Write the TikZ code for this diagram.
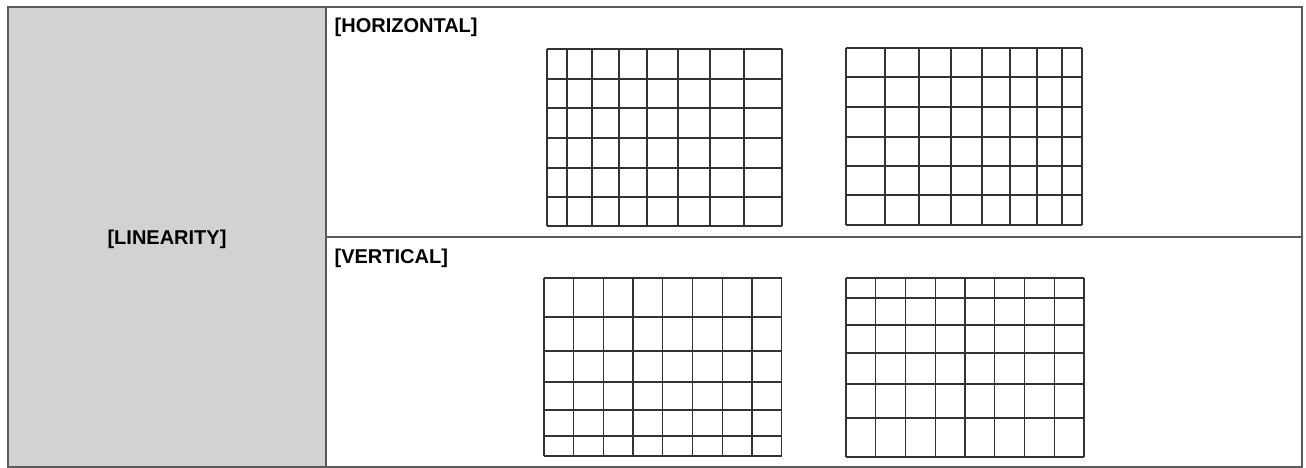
\documentclass[tikz,border=0pt]{standalone}
\usepackage{fontspec}
\setmainfont{Liberation Sans}
\definecolor{cellgray}{HTML}{D1D2D4}
\definecolor{rulegray}{HTML}{5A5A5A}
\definecolor{gridgray}{HTML}{333333}

\begin{document}
\begin{tikzpicture}[x=1pt, y=-1pt, line width=1.3pt]
  \def\tl{8}     % left edge of the table
  \def\tm{326}   % column divider
  \def\tr{1302}  % right edge of the table
  \def\tt{7}     % top edge
  \def\tb{467}   % bottom edge
  \def\th{237}   % row divider
  \useasboundingbox (0,0) rectangle (1306,468);
  % label column
  \fill[cellgray] (\tl,\tt) rectangle (\tm,\tb);
  % table frame and dividers
  \draw[rulegray] (\tl,\tt) rectangle (\tr,\tb);
  \draw[rulegray] (\tm,\tt) -- (\tm,\tb);
  \draw[rulegray] (\tm,\th) -- (\tr,\th);
  % labels
  \node[font=\bfseries\fontsize{20}{24}\selectfont, inner sep=0pt] (lin) at (167,239) {[LINEARITY]};
  \node[font=\bfseries\fontsize{20}{24}\selectfont, inner sep=0pt, anchor=base west] (hor) at (334,33) {[HORIZONTAL]};
  \node[font=\bfseries\fontsize{20}{24}\selectfont, inner sep=0pt, anchor=base west] (ver) at (334,263) {[VERTICAL]};
  % horizontal linearity, left grid
  \foreach \x in {547,567,592,619,647,678,710,744,782}
    \draw[gridgray] (\x,49) -- (\x,226);
  \foreach \y in {49,79,108,138,168,197,226}
    \draw[gridgray] (547,\y) -- (782,\y);
  % horizontal linearity, right grid
  \foreach \x in {846,885,919,951,982,1010,1037,1062,1082}
    \draw[gridgray] (\x,48) -- (\x,225);
  \foreach \y in {48,77,107,137,166,195,225}
    \draw[gridgray] (846,\y) -- (1082,\y);
  % vertical linearity, left grid
  \foreach \i in {0,...,8}
    \draw[gridgray] ({544+\i*29.7},278) -- ({544+\i*29.7},456);
  \foreach \y in {278,317,351,382,410,436,456}
    \draw[gridgray] (544,\y) -- (782,\y);
  % vertical linearity, right grid
  \foreach \i in {0,...,8}
    \draw[gridgray] ({846+\i*29.75},278) -- ({846+\i*29.75},457);
  \foreach \y in {278,298,325,353,384,418,457}
    \draw[gridgray] (846,\y) -- (1084,\y);
\end{tikzpicture}
\end{document}
